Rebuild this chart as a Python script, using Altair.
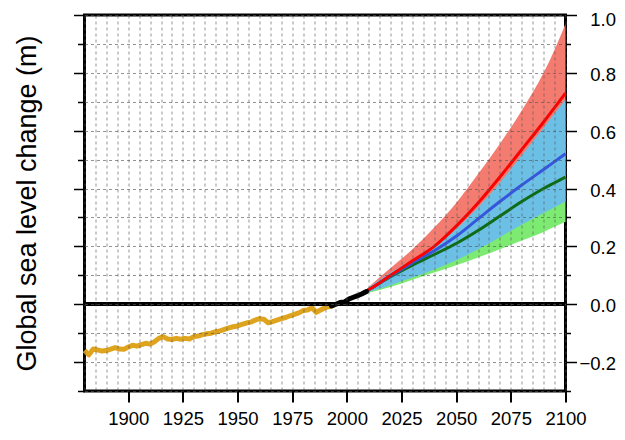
import altair as alt
import pandas as pd

FONT = "Liberation Sans"

# ---- Observed (tide gauge reconstruction) ----
hist_years = [1880, 1882, 1884, 1886, 1888, 1890, 1892, 1894, 1896, 1898,
              1900, 1902, 1904, 1906, 1908, 1910, 1912, 1914, 1916, 1918,
              1920, 1922, 1924, 1926, 1928, 1930, 1932, 1934, 1936, 1938,
              1940, 1942, 1944, 1946, 1948, 1950, 1952, 1954, 1956, 1958,
              1960, 1962, 1964, 1966, 1968, 1970, 1972, 1974, 1976, 1978,
              1980, 1982, 1984, 1986, 1988, 1990, 1992, 1994]
hist_values = [-0.160, -0.175, -0.155, -0.158, -0.162, -0.160, -0.155, -0.150, -0.155, -0.156,
               -0.148, -0.142, -0.145, -0.140, -0.135, -0.138, -0.130, -0.118, -0.112, -0.120,
               -0.122, -0.118, -0.121, -0.118, -0.120, -0.112, -0.110, -0.105, -0.102, -0.100,
               -0.095, -0.092, -0.087, -0.082, -0.078, -0.075, -0.070, -0.065, -0.062, -0.055,
               -0.050, -0.052, -0.064, -0.060, -0.055, -0.050, -0.046, -0.040, -0.035, -0.030,
               -0.022, -0.020, -0.012, -0.028, -0.020, -0.012, -0.008, -0.004]

# ---- Satellite altimetry ----
sat_years = [1993, 1995, 1997, 1999, 2001, 2003, 2005, 2007, 2009]
sat_values = [-0.006, 0.000, 0.006, 0.008, 0.018, 0.024, 0.030, 0.036, 0.044]

# ---- Projections ----
proj_years = [2007, 2010, 2020, 2030, 2040, 2050, 2060, 2070, 2080, 2090, 2095, 2100]
rcp85_low = [0.035, 0.045, 0.080, 0.120, 0.160, 0.210, 0.260, 0.320, 0.380, 0.450, 0.480, 0.520]
rcp85_high = [0.040, 0.060, 0.125, 0.190, 0.265, 0.350, 0.450, 0.555, 0.670, 0.800, 0.880, 0.970]
rcp85_mid = [0.038, 0.050, 0.100, 0.150, 0.200, 0.270, 0.350, 0.440, 0.535, 0.630, 0.680, 0.730]
rcp45_low = [0.035, 0.042, 0.066, 0.092, 0.120, 0.152, 0.190, 0.232, 0.275, 0.315, 0.335, 0.355]
rcp45_high = [0.040, 0.058, 0.110, 0.155, 0.200, 0.260, 0.335, 0.420, 0.515, 0.610, 0.660, 0.707]
rcp45_mid = [0.038, 0.050, 0.098, 0.143, 0.185, 0.235, 0.295, 0.355, 0.412, 0.466, 0.493, 0.520]
rcp26_low = [0.035, 0.040, 0.060, 0.085, 0.110, 0.135, 0.162, 0.190, 0.220, 0.250, 0.268, 0.285]
rcp26_high = [0.040, 0.050, 0.095, 0.140, 0.190, 0.250, 0.310, 0.370, 0.440, 0.520, 0.560, 0.600]
rcp26_mid = [0.038, 0.050, 0.095, 0.135, 0.172, 0.210, 0.255, 0.305, 0.355, 0.400, 0.420, 0.440]

# ---- Axis tick values ----
x_ticks = list(range(1880, 2101, 5))
y_ticks = [-0.3, -0.2, -0.1, 0.0, 0.1, 0.2, 0.3, 0.4, 0.5, 0.6, 0.7, 0.8, 0.9, 1.0]

hist_df = pd.DataFrame({"year": hist_years, "value": hist_values})
sat_df = pd.DataFrame({"year": sat_years, "value": sat_values})
proj_df = pd.DataFrame({
    "year": proj_years,
    "r_lo": rcp85_low, "r_hi": rcp85_high, "r_mid": rcp85_mid,
    "b_lo": rcp45_low, "b_hi": rcp45_high, "b_mid": rcp45_mid,
    "g_lo": rcp26_low, "g_hi": rcp26_high, "g_mid": rcp26_mid,
})

xscale = alt.Scale(domain=[1880, 2100], nice=False, zero=False)
yscale = alt.Scale(domain=[-0.3, 1.0], nice=False, zero=False)

x_axis = alt.Axis(
    values=x_ticks, format="d",
    labelExpr="datum.value % 25 === 0 ? datum.label : ''",
    labelOverlap=False, labelFlush=False,
    labelFont=FONT, labelFontSize=18.5, labelColor="black", labelPadding=7,
    grid=True, gridDash=[3, 3], gridColor="#555", gridWidth=0.8, gridOpacity=0.8,
    tickColor=alt.condition("datum.value % 25 === 0", alt.value("black"), alt.value("transparent")),
    tickSize=11, tickWidth=2, domain=False, title=None, zindex=1,
)

left_axis = alt.Axis(
    orient="left", values=y_ticks, labels=False,
    grid=True, gridDash=[3, 3], gridColor="#555", gridWidth=0.8, gridOpacity=0.8,
    tickSize=alt.condition("round(datum.value*10) % 2 !== 0", alt.value(7), alt.value(11)),
    tickColor="black", tickWidth=1.5, domain=False,
    title="Global sea level change (m)", titleFont=FONT, titleFontSize=27,
    titleFontWeight="normal", titleColor="black", titlePadding=31, zindex=1,
)

right_axis = alt.Axis(
    orient="right", values=y_ticks, format=".1f",
    labelExpr="round(datum.value*10) % 2 === 0 ? datum.label : ''",
    labelOverlap=False, labelFlush=False, labelAlign="right",
    labelOffset=alt.condition("datum.value > 0.95", alt.value(4), alt.value(1.5)),
    labelFont=FONT, labelFontSize=18.5, labelColor="black", labelPadding=39,
    grid=False,
    tickSize=alt.condition("round(datum.value*10) % 2 !== 0", alt.value(5), alt.value(11)),
    tickColor="black", tickWidth=1.5, domain=False, title=None, zindex=1,
)


def X(field="year"):
    return alt.X(f"{field}:Q", scale=xscale, axis=x_axis)


proj = alt.Chart(proj_df)

band_red = proj.mark_area(color="#F37B70", interpolate="monotone").encode(
    x=X(), y=alt.Y("r_lo:Q", scale=yscale, axis=left_axis), y2="r_hi:Q")
band_green = proj.mark_area(color="#7DEB72", interpolate="monotone").encode(
    x=X(), y=alt.Y("g_lo:Q", scale=yscale, axis=None), y2="g_hi:Q")
band_blue = proj.mark_area(color="#6CC0E6", interpolate="monotone").encode(
    x=X(), y=alt.Y("b_lo:Q", scale=yscale, axis=None), y2="b_hi:Q")

line_green = proj.mark_line(color="#0E6B16", strokeWidth=3, interpolate="monotone").encode(
    x=X(), y=alt.Y("g_mid:Q", scale=yscale, axis=None))
line_blue = proj.mark_line(color="#3557DD", strokeWidth=3, interpolate="monotone").encode(
    x=X(), y=alt.Y("b_mid:Q", scale=yscale, axis=None))
line_red = proj.mark_line(color="#FF0000", strokeWidth=3, interpolate="monotone").encode(
    x=X(), y=alt.Y("r_mid:Q", scale=yscale, axis=None))

hist_line = alt.Chart(hist_df).mark_line(color="#DFA41E", strokeWidth=5, strokeJoin="round").encode(
    x=X(), y=alt.Y("value:Q", scale=yscale, axis=None))

zero_line = alt.Chart(hist_df).mark_rule(color="black", strokeWidth=3).encode(
    y=alt.datum(0, scale=yscale, axis=None))

sat_line = alt.Chart(sat_df).mark_line(color="black", strokeWidth=5, strokeCap="round").encode(
    x=X(), y=alt.Y("value:Q", scale=yscale, axis=right_axis))

chart = alt.layer(
    band_red, band_green, band_blue,
    line_green, line_blue, line_red,
    hist_line, zero_line, sat_line,
).resolve_scale(y="shared").resolve_axis(y="independent").properties(
    width=481, height=376,
    autosize=alt.AutoSizeParams(type="none"),
    padding={"left": 76.5, "top": 7, "right": 51.5, "bottom": 41},
    background="white",
).configure_view(stroke="black", strokeWidth=3)

chart.save("out.html", embed_options={"renderer": "svg", "actions": False})
